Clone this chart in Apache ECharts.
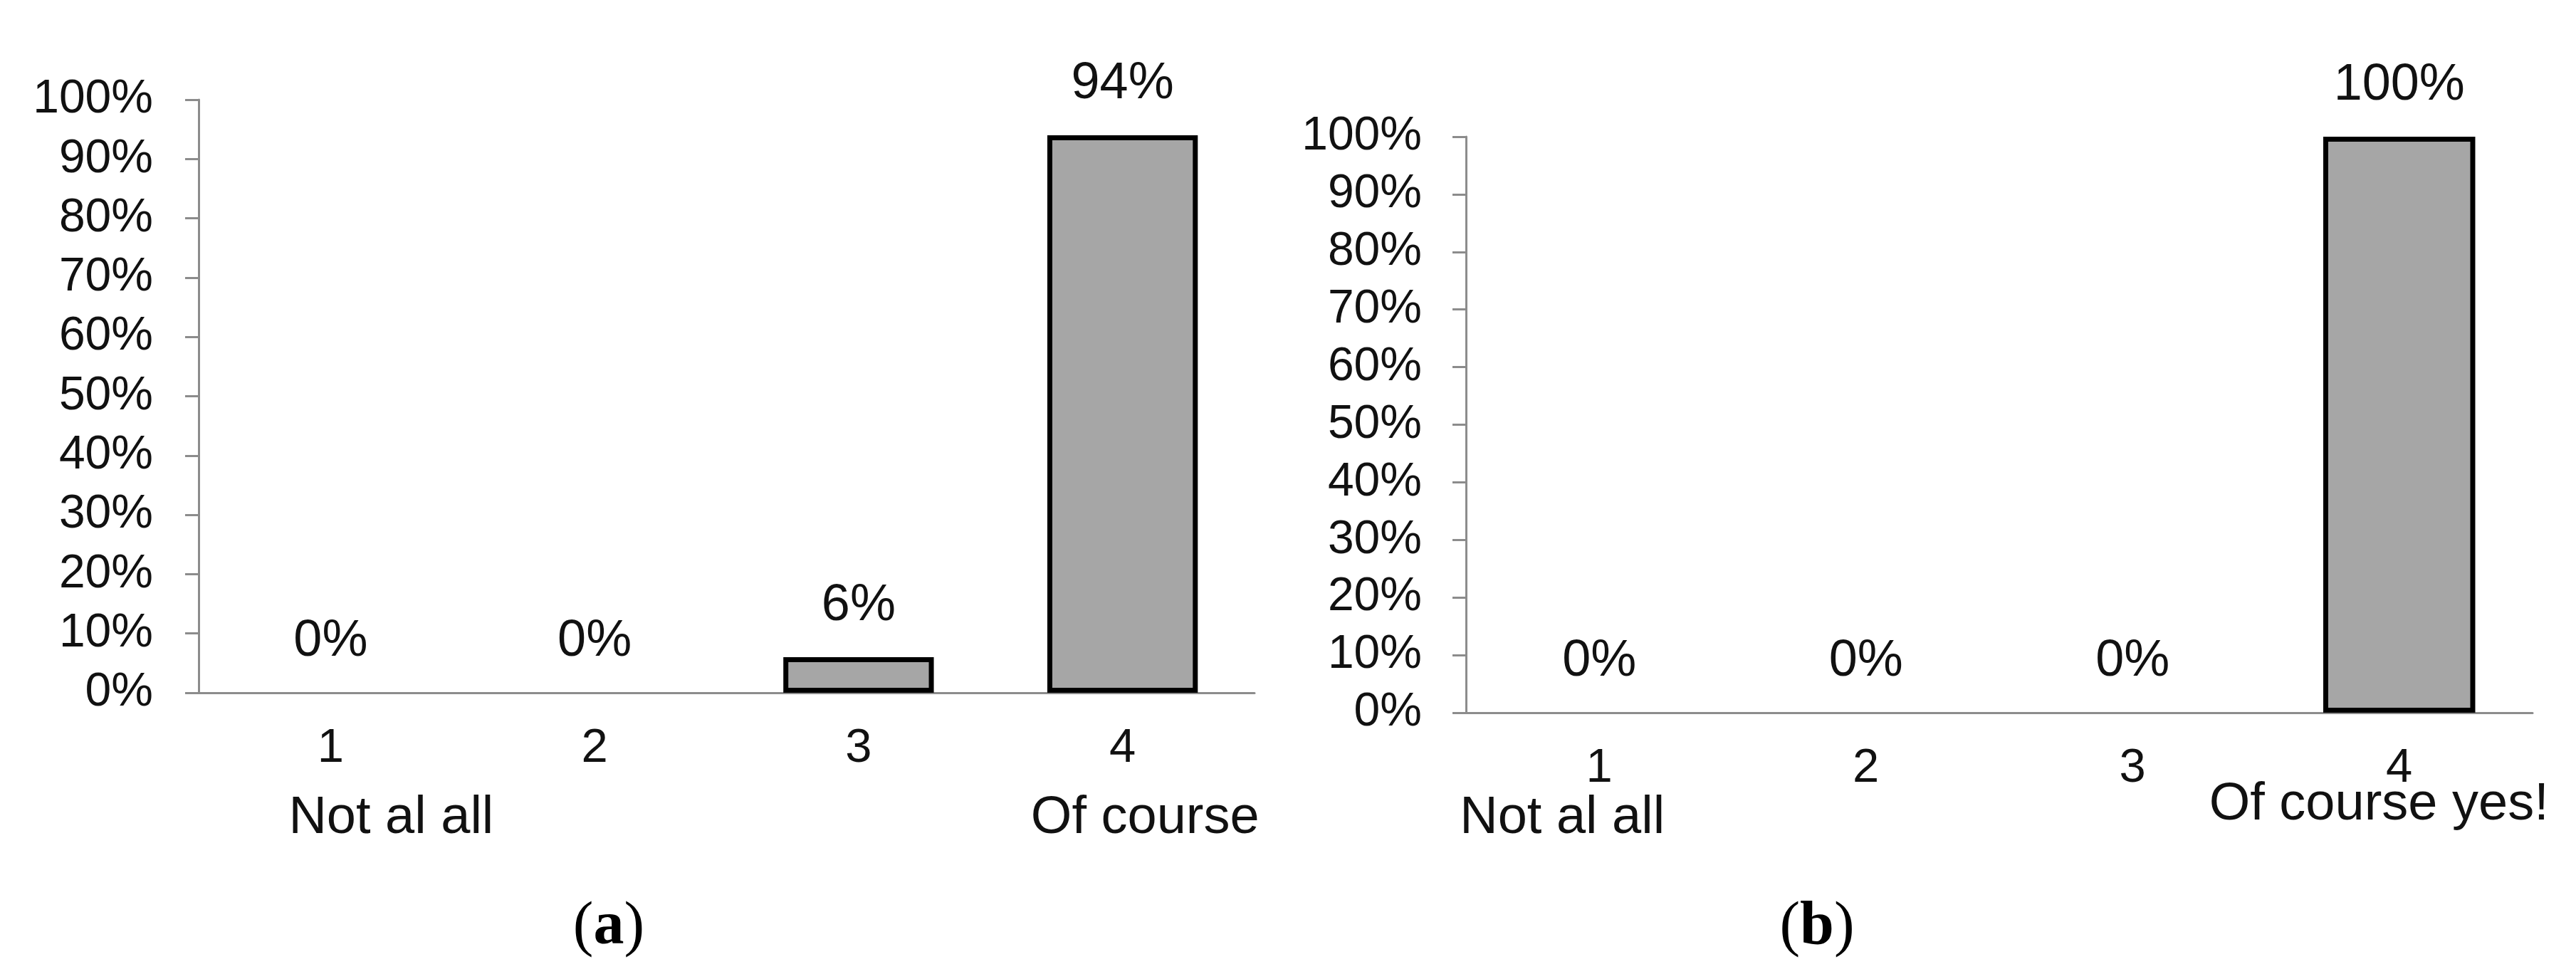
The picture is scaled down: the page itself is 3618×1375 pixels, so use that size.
<!DOCTYPE html>
<html>
<head>
<meta charset="utf-8">
<title>Survey answers (a) and (b)</title>
<script src="https://cdn.jsdelivr.net/npm/echarts@6/dist/echarts.min.js"></script>
<style>
  html, body { margin: 0; padding: 0; background: #fff; }
  #chart { width: 3618px; height: 1375px; }
</style>
</head>
<body>
<div id="chart"></div>
<script>
// answer scale and share of answers (%)
var categories = ['1', '2', '3', '4'];
var valuesA = [0, 0, 6, 94];
var valuesB = [0, 0, 0, 100];
var yMin = 0, yMax = 100, yStep = 10;
var scaleLowA = 'Not al all', scaleHighA = 'Of course';
var scaleLowB = 'Not al all', scaleHighB = 'Of course yes!';
var panelNames = ['a', 'b'];

var SANS = "'Liberation Sans', Arial, sans-serif";
var AXIS_GRAY = '#8c8c8c';
var TEXT = '#111';

function xAxisFor(i) {
  return {
    type: 'category', gridIndex: i, data: categories,
    axisLine: { lineStyle: { color: AXIS_GRAY, width: 3 } },
    axisTick: { show: false },
    axisLabel: { fontSize: 67, color: TEXT, fontFamily: SANS, margin: 45 }
  };
}
function yAxisFor(i, margin) {
  return {
    type: 'value', gridIndex: i, min: yMin, max: yMax, interval: yStep,
    axisLine: { show: true, lineStyle: { color: AXIS_GRAY, width: 3 } },
    axisTick: { show: true, length: 19, lineStyle: { color: AXIS_GRAY, width: 3 } },
    splitLine: { show: false },
    axisLabel: { formatter: '{value}%', fontSize: 66, color: TEXT, fontFamily: SANS, margin: margin }
  };
}
function barSeries(i, vals) {
  return {
    type: 'bar', xAxisIndex: i, yAxisIndex: i, barWidth: '57%',
    // a zero bar has no outline in the figure
    data: vals.map(function (v) {
      return { value: v, itemStyle: { borderWidth: v === 0 ? 0 : 7 } };
    }),
    itemStyle: { color: '#a6a6a6', borderColor: '#000', borderWidth: 7 },
    label: {
      show: true, position: 'top', distance: 36, formatter: '{c}%',
      fontSize: 72, color: TEXT, fontFamily: SANS
    },
    animation: false
  };
}

var chart = echarts.init(document.getElementById('chart'));
chart.setOption({
  backgroundColor: '#fff',
  animation: false,
  grid: [
    { left: 279, top: 140, width: 1483, height: 833 },
    { left: 2059, top: 192, width: 1498, height: 809 }
  ],
  xAxis: [xAxisFor(0), xAxisFor(1)],
  yAxis: [yAxisFor(0, 64), yAxisFor(1, 62)],
  series: [barSeries(0, valuesA), barSeries(1, valuesB)]
});

// scale end captions under the category numbers, anchored to the axes
function at(g, cat) { return chart.convertToPixel({ gridIndex: g }, [cat, 0]); }
function caption(text, x, y, align) {
  return {
    type: 'text', x: x, y: y,
    style: { text: text, fill: TEXT, font: '74px ' + SANS, align: align, verticalAlign: 'middle' }
  };
}
function panelTag(name, x, y) {
  return {
    type: 'text', x: x, y: y,
    style: {
      text: '({b|' + name + '})', fill: '#000', align: 'center', verticalAlign: 'middle',
      fontSize: 86, fontFamily: "'Liberation Serif', 'Times New Roman', serif",
      rich: { b: { fontSize: 86, fontWeight: 'bold', fontFamily: "'Liberation Serif', 'Times New Roman', serif" } }
    }
  };
}
var a1 = at(0, categories[0]), a4 = at(0, categories[3]);
var b1 = at(1, categories[0]), b4 = at(1, categories[3]);
chart.setOption({
  graphic: [
    caption(scaleLowA, a1[0] - 59, a1[1] + 177, 'left'),
    caption(scaleHighA, a4[0] + 192, a4[1] + 177, 'right'),
    caption(scaleLowB, b1[0] - 196, b1[1] + 149, 'left'),
    caption(scaleHighB, b4[0] + 210, b4[1] + 130, 'right'),
    panelTag(panelNames[0], 855, 1303),
    panelTag(panelNames[1], 2552, 1303)
  ]
});
</script>
</body>
</html>
